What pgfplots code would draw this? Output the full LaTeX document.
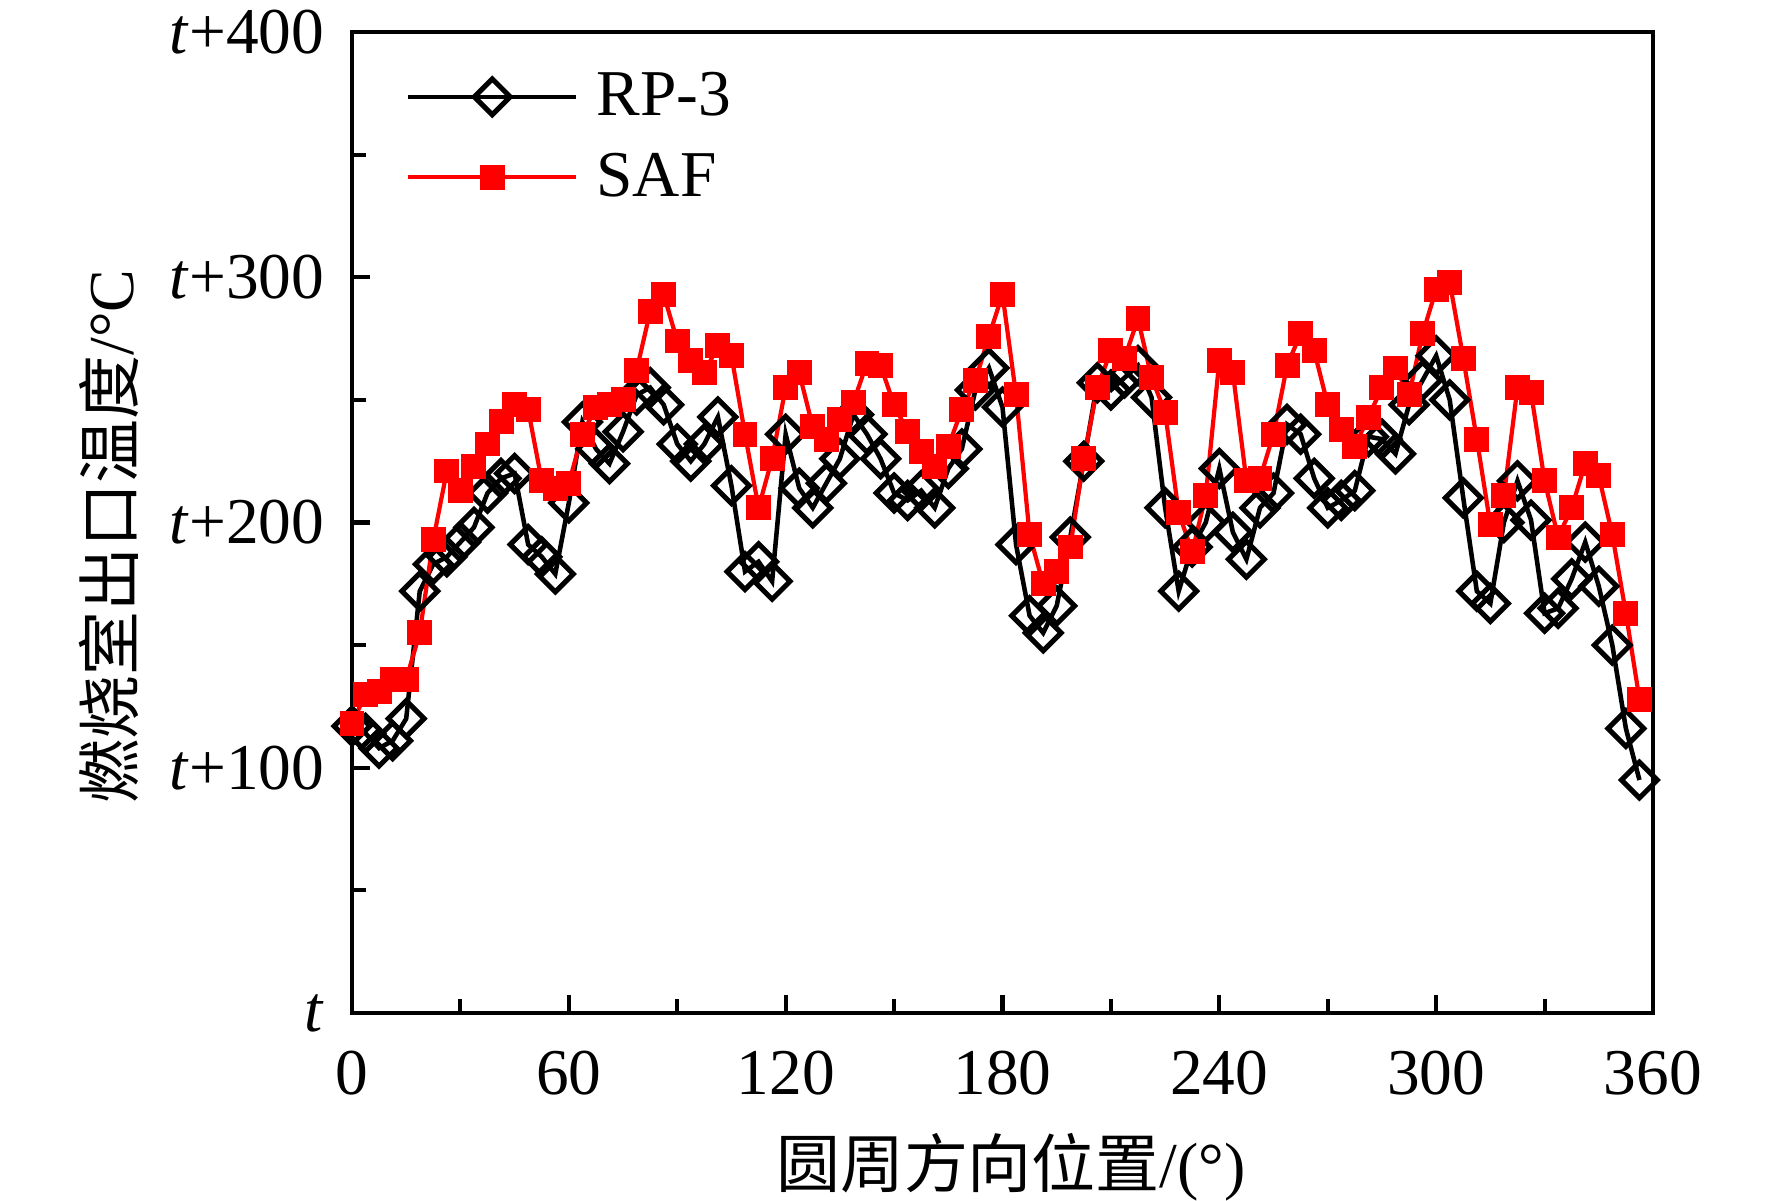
\documentclass[border=0pt]{standalone}
\usepackage{fontspec}
\setmainfont{Liberation Serif}
\newfontfamily\cjk{Noto Sans CJK SC}
\usepackage{pgfplots}
\usepackage{pgfplotstable}
\pgfplotsset{compat=1.18}

\pgfplotstableread{
x y
0 117
3.75 114
7.5 108
11.25 111
15 120
18.75 172
22.5 183
26.25 186
30 192
33.75 198
37.5 212
41.25 218
45 220
48.75 191
52.5 186
56.25 179
60 208
63.75 241
67.5 230
71.25 224
75 237
78.75 252
82.5 255
86.25 248
90 232
93.75 225
97.5 232
101.25 243
105 215
108.75 180
112.5 184
116.25 176
120 236
123.75 214
127.5 206
131.25 216
135 226
138.75 244
142.5 236
146.25 226
150 212
153.75 209
157.5 213
161.25 206
165 222
168.75 230
172.5 254
176.25 263
180 247
183.75 191
187.5 162
191.25 155
195 166
198.75 194
202.5 225
206.25 257
210 254
213.75 259
217.5 264
221.25 251
225 206
228.75 172
232.5 190
236.25 200
240 222
243.75 196
247.5 185
251.25 206
255 212
258.75 240
262.5 236
266.25 218
270 206
273.75 209
277.5 213
281.25 235
285 234
288.75 228
292.5 248
296.25 258
300 268
303.75 250
307.5 210
311.25 172
315 167
318.75 200
322.5 217
326.25 201
330 163
333.75 165
337.5 177
341.25 192
345 174
348.75 150
352.5 116
356.25 95
}\rpthree

\pgfplotstableread{
x y
0 118
3.75 130
7.5 131
11.25 136
15 136
18.75 155
22.5 193
26.25 221
30 213
33.75 223
37.5 232
41.25 241
45 248
48.75 246
52.5 217
56.25 214
60 216
63.75 236
67.5 247
71.25 248
75 250
78.75 262
82.5 286
86.25 293
90 274
93.75 266
97.5 261
101.25 272
105 268
108.75 236
112.5 206
116.25 226
120 255
123.75 261
127.5 239
131.25 234
135 242
138.75 249
142.5 265
146.25 264
150 248
153.75 237
157.5 229
161.25 223
165 231
168.75 246
172.5 258
176.25 276
180 293
183.75 252
187.5 195
191.25 175
195 180
198.75 190
202.5 226
206.25 255
210 270
213.75 267
217.5 283
221.25 259
225 245
228.75 204
232.5 188
236.25 211
240 266
243.75 261
247.5 217
251.25 218
255 236
258.75 264
262.5 277
266.25 270
270 248
273.75 238
277.5 231
281.25 243
285 255
288.75 263
292.5 252
296.25 277
300 295
303.75 298
307.5 267
311.25 234
315 199
318.75 211
322.5 255
326.25 253
330 217
333.75 194
337.5 206
341.25 224
345 219
348.75 195
352.5 163
356.25 128
}\saf

\begin{document}
\begin{tikzpicture}
\begin{axis}[
  name=ax,
  scale only axis,
  width=130.1mm, height=98.1mm,
  xmin=0, xmax=360, ymin=0, ymax=400,
  clip=false,
  xtick={0,60,120,180,240,300,360},
  xticklabels={0,60,120,180,240,300,360},
  minor xtick={30,90,150,210,270,330},
  ytick={0,100,200,300,400},
  yticklabels={\textit{t},\textit{t}+100,\textit{t}+200,\textit{t}+300,\textit{t}+400},
  minor ytick={50,150,250,350},
  tick pos=left,
  tick align=inside,
  major tick length=1.8mm,
  minor tick length=1.4mm,
  tick style={line width=1.15pt, black},
  axis line style={line width=1.15pt, black},
  ticklabel style={font=\fontsize{18.6}{20}\selectfont},
  xticklabel style={anchor=center, inner sep=0pt, yshift=-6.0mm},
  yticklabel style={anchor=east, inner sep=0pt, xshift=-2.7mm},
  xlabel={{\cjk 圆周方向位置}/(°)},
  ylabel={{\cjk 燃烧室出口温度}/°C},
  label style={font=\fontsize{18.2}{20}\selectfont},
  xlabel style={at={(axis description cs:0.5065,-0.157)}, anchor=center},
  ylabel style={at={(axis description cs:-0.187,0.486)}, anchor=center},
  legend style={at={(axis description cs:0.0415,0.9587)}, anchor=north west,
    draw=none, fill=none, inner sep=0pt, outer sep=0pt,
    row sep=3.2mm, column sep=1.8mm,
    font=\fontsize{18.6}{20}\selectfont,
    nodes={inner sep=0pt, outer sep=0pt}},
  legend cell align=left,
  legend image code/.code={\draw[mark repeat=2,mark phase=2,#1] plot coordinates {(0mm,0mm) (8.4mm,0mm) (16.8mm,0mm)};},
]
\addplot[black, line width=1.3pt, mark=square, mark size=3.6pt,
  mark options={rotate=45, line width=1.45pt, solid, fill=none}] table[x=x,y=y] {\rpthree};
\addlegendentry{RP-3}
\addplot[red, line width=1.2pt, mark=square*, mark size=3.35pt,
  mark options={line width=0.4pt, solid, fill=red, draw=red}] table[x=x,y=y] {\saf};
\addlegendentry{SAF}
\end{axis}
\pgfresetboundingbox
\path[use as bounding box] ([xshift=-35.2mm,yshift=-18.8mm]ax.south west) rectangle ([xshift=11.9mm,yshift=3.2mm]ax.north east);
\end{tikzpicture}
\end{document}
